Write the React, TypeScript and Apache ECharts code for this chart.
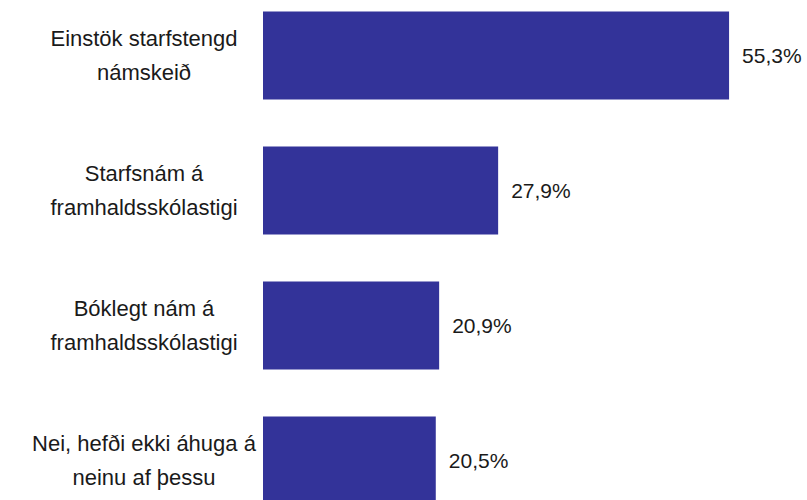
import React, { useEffect, useRef } from "react";
import * as echarts from "echarts";

const categories = [
  "Einstök starfstengd\nnámskeið",
  "Starfsnám á\nframhaldsskólastigi",
  "Bóklegt nám á\nframhaldsskólastigi",
  "Nei, hefði ekki áhuga á\nneinu af þessu",
];
const values = [55.3, 27.9, 20.9, 20.5];

export default function App() {
  const ref = useRef<HTMLDivElement>(null);
  useEffect(() => {
    if (!ref.current) return;
    const chart = echarts.init(ref.current, undefined, { renderer: "svg" });
    chart.setOption({
      animation: false,
      backgroundColor: "#ffffff",
      grid: { left: 263, width: 504, top: 0, bottom: 0 },
      xAxis: {
        type: "value",
        min: 0,
        max: 59.8,
        show: false,
      },
      yAxis: {
        type: "category",
        data: categories,
        inverse: true,
        axisLine: { show: false },
        axisTick: { show: false },
        splitLine: { show: false },
        axisLabel: {
          margin: 119,
          align: "center",
          fontFamily: "Liberation Sans, Arial, sans-serif",
          fontSize: 22,
          lineHeight: 34,
          color: "#1a1a1a",
        },
      },
      series: [
        {
          type: "bar",
          data: values,
          barWidth: 88,
          itemStyle: { color: "#333399" },
          label: {
            show: true,
            position: "right",
            distance: 13,
            fontFamily: "Liberation Sans, Arial, sans-serif",
            fontSize: 21,
            color: "#1a1a1a",
            formatter: (p: any) => p.value.toFixed(1).replace(".", ",") + "%",
          },
        },
      ],
    });
    return () => chart.dispose();
  }, []);
  return (
    <div
      ref={ref}
      style={{ position: "fixed", left: 0, top: -12, width: 807, height: 540 }}
    />
  );
}
